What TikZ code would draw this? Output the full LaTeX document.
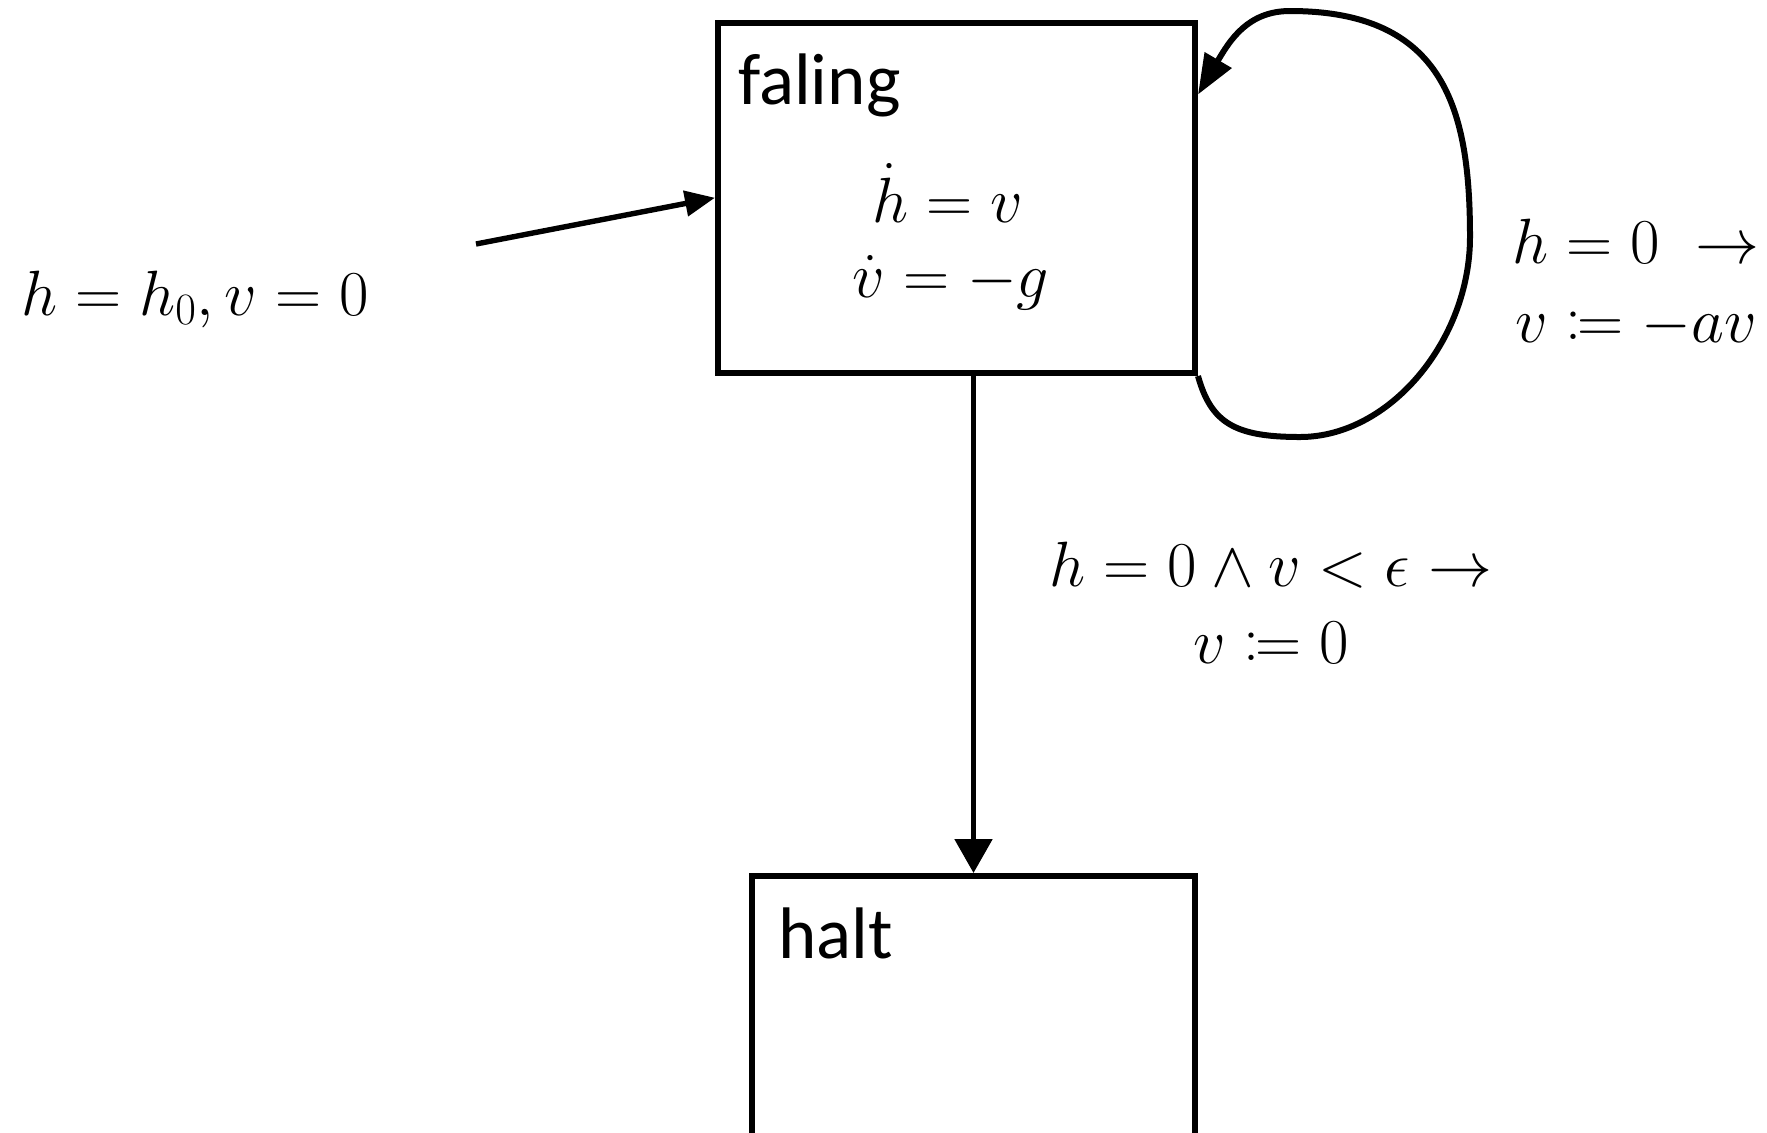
\RequirePackage{fix-cm}
\documentclass[tikz,border=0pt]{standalone}
\usepackage{amsmath,mathtools}
\usepackage{fontspec}
\newfontfamily\calib{Carlito}
\usetikzlibrary{arrows.meta,calc}
\begin{document}
\begin{tikzpicture}[x=0.5pt,y=-0.5pt,
  box/.style={draw, line width=3pt, inner sep=0pt, rectangle},
  conn/.style={line width=2.7pt},
  mathlbl/.style={font=\fontsize{32}{38}\selectfont, inner sep=0pt},
  txt/.style={font=\calib\fontsize{36.5}{44}\selectfont, inner sep=0pt}]
\useasboundingbox (0,0) rectangle (1767,1132);
\fill[white] (0,0) rectangle (1767,1132);
\begin{scope}
\clip (0,0) rectangle (1767,1132);
\node[box, minimum width=238.5pt, minimum height=175.25pt] (falling) at (956.5,197.75) {};
\node[box, minimum width=221.5pt, minimum height=187pt] (halt) at (973.5,1063) {};
\end{scope}
\node[txt, anchor=base west] (flbl) at (738,104) {faling};
\node[txt, anchor=base west] (hlbl) at (778,958) {halt};
\node[mathlbl, anchor=base] (eq1) at (948,222) {$\dot h = v$};
\node[mathlbl, anchor=base] (eq2) at (951,297) {$\dot v = -g$};
% initial transition
\coordinate (init) at (476,244);
\draw[conn, -{Triangle[length=15pt,width=12.5pt]}] (init) -- (falling.west);
\node[mathlbl, anchor=base] (initlbl) at (195,315) {$h = h_0, v = 0$};
% falling -> halt
\draw[conn, -{Triangle[length=17pt,width=18.5pt]}] (falling.south -| halt.north) -- (halt.north);
\node[mathlbl, anchor=base] (g1a) at (1271,586) {$h = 0 \land v < \epsilon \to$};
\node[mathlbl, anchor=base] (g1b) at (1271,663) {$v \coloneqq 0$};
% self loop
\coordinate (loopend) at ($(falling.north east)+(0,75)$);
\draw[conn, line width=3pt, -{Triangle[length=20pt,width=15pt]}] (falling.south east)
  .. controls +(13,47) and (1235,437) .. (1300,437)
  .. controls (1390,437) and (1470,340) .. (1470,237)
  .. controls (1470,110) and (1445,11) .. (1290,11)
  .. controls (1248,11) and (1230,40) .. (loopend);
\node[mathlbl, anchor=base] (g2a) at (1636,263) {$h = 0 \;\to$};
\node[mathlbl, anchor=base] (g2b) at (1636,342) {$v \coloneqq -av$};
\end{tikzpicture}
\end{document}
